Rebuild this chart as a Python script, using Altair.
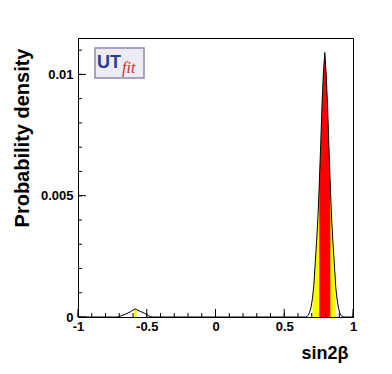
import altair as alt
import pandas as pd

# secondary solution near sin2b ~ -0.59
sec_x = [-0.71, -0.68, -0.65, -0.62, -0.60, -0.593, -0.585, -0.573, -0.55, -0.52, -0.50, -0.49, -0.47, -0.45]
sec_y = [0.0, 0.00006, 0.00013, 0.00021, 0.00028, 0.00031, 0.00033, 0.00030, 0.00024, 0.00016, 0.00011, 0.00006, 0.00001, 0.0]

# main solution near sin2b ~ 0.795
main_x = [0.655, 0.665, 0.675, 0.685, 0.695, 0.705, 0.715, 0.725, 0.735, 0.745,
          0.755, 0.765, 0.775, 0.785, 0.795, 0.805, 0.815, 0.825, 0.835, 0.845,
          0.855, 0.865, 0.875, 0.885, 0.895, 0.905, 0.915, 0.925, 0.935]
main_y = [0.0, 0.00003, 0.00008, 0.0002, 0.0004, 0.00076, 0.0013, 0.0022, 0.0031, 0.0041,
          0.0055, 0.0071, 0.0088, 0.0101, 0.0109, 0.0100, 0.0087, 0.0070, 0.0054, 0.0040,
          0.0030, 0.0021, 0.0012, 0.0007, 0.00035, 0.00015, 0.00005, 0.00002, 0.0]

x_all = [-1.0] + sec_x + main_x + [1.0]
y_all = [0.0] + sec_y + main_y + [0.0]
df = pd.DataFrame({"x": x_all, "y": y_all})

# probability regions
red_ranges = [(0.755, 0.835)]
yellow_ranges = [(-0.593, -0.573), (0.705, 0.875)]

x_major = [-1, -0.5, 0, 0.5, 1]
y_major = [0, 0.005, 0.01]
x_minor = [round(-1 + 0.1 * i, 1) for i in range(21)]
y_minor = [round(0.001 * i, 3) for i in range(12)]

W, H = 275, 279
FONT = "Liberation Sans"

xs = alt.Scale(domain=[-1, 1], nice=False, zero=False)
ys = alt.Scale(domain=[0, 0.0115], nice=False, zero=False)


def range_filter(ranges):
    return " || ".join(
        f"(datum.x >= {lo - 1e-6} && datum.x <= {hi + 1e-6})" for lo, hi in ranges
    )


base = alt.Chart(df)

yellow = base.mark_area(color="#ffff00", opacity=1).transform_filter(
    range_filter(yellow_ranges)
).transform_calculate(seg="datum.x < 0 ? 'a' : 'b'").encode(
    x=alt.X("x:Q", scale=xs, axis=alt.Axis(
        orient="bottom", values=x_major, labelExpr="'' + datum.value",
        labelFont=FONT, labelFontWeight="bold", labelFontSize=13, labelColor="black",
        labelPadding=3, ticks=False, domainColor="black", grid=False, labelFlush=False,
        title="sin2β", titleFont=FONT, titleFontWeight="bold", titleFontSize=18,
        titleColor="black", titleAlign="right", titleAnchor="end",
        titleX=270, titleY=41, titleBaseline="alphabetic")),
    y=alt.Y("y:Q", scale=ys, stack=None, axis=alt.Axis(
        orient="left", values=y_major, labelExpr="'' + datum.value",
        labelFont=FONT, labelFontWeight="bold", labelFontSize=13, labelColor="black",
        labelPadding=5, ticks=False, domainColor="black", grid=False, labelFlush=False,
        title="Probability density", titleFont=FONT, titleFontWeight="bold",
        titleFontSize=20, titleColor="black", titleAngle=270, titleAlign="right",
        titleX=-56, titleY=10, titleBaseline="middle")),
    detail="seg:N",
)

red = base.mark_area(color="#ff0000", opacity=1).transform_filter(
    range_filter(red_ranges)
).encode(
    x=alt.X("x:Q", scale=xs),
    y=alt.Y("y:Q", scale=ys, stack=None),
)

line = base.mark_line(color="black", strokeWidth=1).encode(
    x=alt.X("x:Q", scale=xs),
    y=alt.Y("y:Q", scale=ys),
)

# inside ticks (ROOT style), placed through the shared scales
xminor_df = pd.DataFrame({"t": x_minor})
xmajor_df = pd.DataFrame({"t": x_major})
yminor_df = pd.DataFrame({"t": y_minor})
ymajor_df = pd.DataFrame({"t": y_major})

xt_minor = alt.Chart(xminor_df).mark_rule(color="black", strokeWidth=1).encode(
    x=alt.X("t:Q", scale=xs), y=alt.value(H), y2=alt.value(H - 4))
xt_major = alt.Chart(xmajor_df).mark_rule(color="black", strokeWidth=1).encode(
    x=alt.X("t:Q", scale=xs), y=alt.value(H), y2=alt.value(H - 8))
yt_minor = alt.Chart(yminor_df).mark_rule(color="black", strokeWidth=1).encode(
    y=alt.Y("t:Q", scale=ys), x=alt.value(0), x2=alt.value(4))
yt_major = alt.Chart(ymajor_df).mark_rule(color="black", strokeWidth=1).encode(
    y=alt.Y("t:Q", scale=ys), x=alt.value(0), x2=alt.value(8))

logo_df = pd.DataFrame({"a": [0]})
logo_box = alt.Chart(logo_df).mark_rect(
    fill="#ececf2", stroke="#8a8ab8", strokeWidth=1.5
).encode(x=alt.value(17), x2=alt.value(66), y=alt.value(10), y2=alt.value(40))
logo_ut = alt.Chart(logo_df).mark_text(
    text="UT", font=FONT, fontWeight="bold", fontSize=18, color="#2e3c94",
    align="left", baseline="alphabetic"
).encode(x=alt.value(19), y=alt.value(30))
logo_fit = alt.Chart(logo_df).mark_text(
    text="fit", font="Liberation Serif", fontStyle="italic", fontSize=16, color="#d42a2a",
    align="left", baseline="alphabetic"
).encode(x=alt.value(44), y=alt.value(35))

chart = alt.layer(
    yellow, red, line, xt_minor, xt_major, yt_minor, yt_major,
    logo_box, logo_ut, logo_fit
).properties(
    width=W, height=H,
    autosize=alt.AutoSizeParams(type="none"),
    padding={"left": 70, "top": 30, "right": 31, "bottom": 49},
    background="white",
).configure_view(stroke="black", strokeWidth=1)

chart.save("out.html", embed_options={"renderer": "svg", "actions": False})
